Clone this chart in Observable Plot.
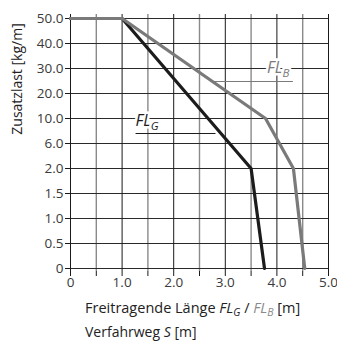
<!DOCTYPE html>
<html>
<head>
<meta charset="utf-8">
<script src="https://cdn.jsdelivr.net/npm/d3@7"></script>
<script src="https://cdn.jsdelivr.net/npm/@observablehq/plot@0.6"></script>
<style>
  html, body { margin: 0; padding: 0; background: #fff; }
  svg { display: block; }
</style>
</head>
<body>
<div id="chart"></div>
<script>
// Category levels of the load axis (top to bottom)
const loadLevels = ["50.0", "40.0", "30.0", "20.0", "10.0", "6.0", "2.0", "1.5", "1.0", "0.5", "0"];
// Length ticks
const majorTicks = [0, 1, 2, 3, 4, 5];
const minorTicks = [0.5, 1.5, 2.5, 3.5, 4.5];
const allTicks = [0, 0.5, 1, 1.5, 2, 2.5, 3, 3.5, 4, 4.5, 5];

// FL_G (black)
const flgX = [0, 1.0, 3.5, 3.76];
const flgY = ["50.0", "50.0", "2.0", "0"];
// FL_B (grey)
const flbX = [0, 1.0, 3.78, 4.32, 4.54];
const flbY = ["50.0", "50.0", "10.0", "2.0", "0"];

const flg = flgX.map((x, i) => ({x, y: flgY[i]}));
const flb = flbX.map((x, i) => ({x, y: flbY[i]}));

const FONT = "'Open Sans', 'DejaVu Sans', sans-serif";
const BLACK = "#1c1c1c";
const GREY = "#7a7a7a";

const chart = Plot.plot({
  width: 337,
  height: 342,
  marginLeft: 70,
  marginRight: 9,
  marginTop: 14,
  marginBottom: 71,
  style: {fontFamily: FONT, fontSize: "13px", color: "#3a3a3a", background: "#fff"},
  x: {domain: [0, 5]},
  y: {type: "point", domain: loadLevels, padding: 0},
  marks: [
    Plot.ruleX(minorTicks, {stroke: "#8a8a8a", strokeWidth: 1.4}),
    Plot.ruleY(loadLevels, {stroke: "#2a2a2a", strokeWidth: 1}),
    Plot.ruleX(majorTicks, {stroke: "#1a1a1a", strokeWidth: 1}),
    Plot.axisX({ticks: allTicks, tickSize: 5, tickPadding: 1, stroke: "#1a1a1a",
      tickFormat: d => Number.isInteger(d) ? (d === 0 ? "0" : d.toFixed(1)) : "",
      label: null, fontSize: 13.5, fill: "#3a3a3a"}),
    Plot.axisY({tickSize: 5, tickPadding: 2, label: null, fontSize: 13.5, fill: "#3a3a3a", stroke: "#1a1a1a"}),
    // leader lines under the labels
    Plot.ruleY(["30.0"], {x1: 2.72, x2: 4.32, dy: 13, stroke: GREY, strokeWidth: 1}),
    Plot.ruleY(["10.0"], {x1: 1.27, x2: 2.82, dy: 15, stroke: BLACK, strokeWidth: 1}),
    // curves
    Plot.line(flg, {x: "x", y: "y", stroke: BLACK, strokeWidth: 3.2, strokeLinejoin: "miter"}),
    Plot.line(flb, {x: "x", y: "y", stroke: GREY, strokeWidth: 3.2, strokeLinejoin: "miter"}),
  ]
});

const svg = d3.select(chart);

function label(x, y, fill, sub) {
  const t = svg.append("text")
    .attr("x", x).attr("y", y)
    .attr("text-anchor", "start")
    .attr("font-family", FONT)
    .attr("font-style", "italic")
    .attr("font-size", 16)
    .attr("fill", fill)
    .attr("stroke", "#fff").attr("stroke-width", 5)
    .attr("paint-order", "stroke");
  t.append("tspan").text("FL");
  t.append("tspan").attr("font-size", 11.5).attr("dy", 4).text(sub);
}
// Curve labels (placed via the plot's scales)
const sx = chart.scale("x"), sy = chart.scale("y");
label(sx.apply(3.82), sy.apply("30.0") + 5, GREY, "B");
label(sx.apply(1.27), sy.apply("10.0") + 8, BLACK, "G");

// y-axis title
svg.append("text")
  .attr("transform", "translate(22,79) rotate(-90)")
  .attr("text-anchor", "middle")
  .attr("font-family", FONT).attr("font-size", 14).attr("fill", "#222")
  .text("Zusatzlast [kg/m]");

// x-axis title
const xt = svg.append("text")
  .attr("x", 85).attr("y", 313)
  .attr("text-anchor", "start")
  .attr("font-family", FONT).attr("font-size", 14.5).attr("fill", "#222");
xt.append("tspan").text("Freitragende Länge ");
xt.append("tspan").attr("font-style", "italic").text("FL");
xt.append("tspan").attr("font-style", "italic").attr("font-size", 10.5).attr("dy", 3).text("G");
xt.append("tspan").attr("dy", -3).text(" / ");
xt.append("tspan").attr("font-style", "italic").attr("fill", "#8a8a8a").text("FL");
xt.append("tspan").attr("font-style", "italic").attr("fill", "#8a8a8a").attr("font-size", 10.5).attr("dy", 3).text("B");
xt.append("tspan").attr("dy", -3).text(" [m]");

const vt = svg.append("text")
  .attr("x", 85).attr("y", 337)
  .attr("text-anchor", "start")
  .attr("font-family", FONT).attr("font-size", 14).attr("fill", "#222");
vt.append("tspan").text("Verfahrweg ");
vt.append("tspan").attr("font-style", "italic").text("S");
vt.append("tspan").text(" [m]");

document.getElementById("chart").appendChild(chart);
</script>
</body>
</html>
